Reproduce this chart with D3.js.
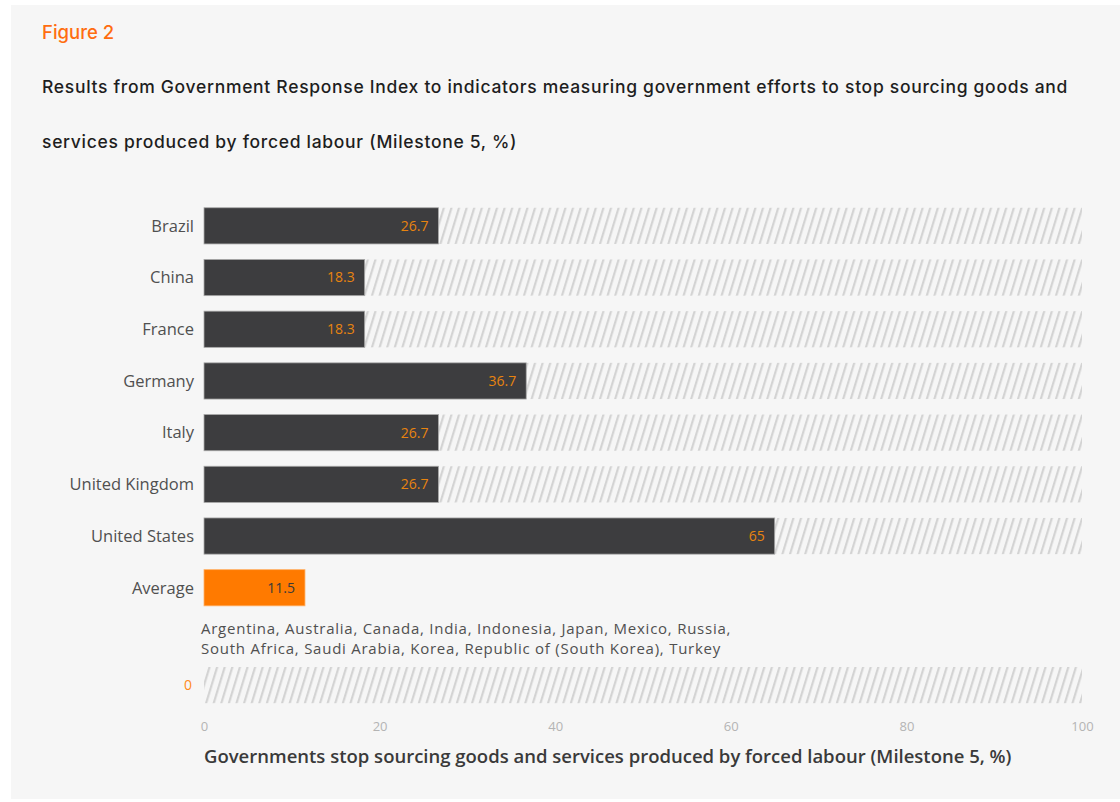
<!DOCTYPE html>
<html>
<head>
<meta charset="utf-8">
<script src="https://cdn.jsdelivr.net/npm/d3@7"></script>
<style>
  html, body { margin: 0; padding: 0; background: #fff; }
  svg { display: block; }
</style>
</head>
<body>
<svg id="chart" width="1120" height="802"></svg>
<script>
var countries = ['Brazil', 'China', 'France', 'Germany', 'Italy', 'United Kingdom', 'United States', 'Average']
  , values = [26.7, 18.3, 18.3, 36.7, 26.7, 26.7, 65, 11.5]
  , zeroCountries = ['Argentina, Australia, Canada, India, Indonesia, Japan, Mexico, Russia,',
                     'South Africa, Saudi Arabia, Korea, Republic of (South Korea), Turkey']
  , zeroValue = 0
  , ticks = [0, 20, 40, 60, 80, 100]
  ;

var svg = d3.select('#chart')
  , orange = '#ff7a00'
  , dark = '#3d3d3f'
  , labelFont = '"Open Sans", Lato, sans-serif'
  , titleFont = 'Inter, "Noto Sans", sans-serif'
  ;

svg.append('rect')
    .attr('x', 11).attr('y', 5)
    .attr('width', 1109).attr('height', 794)
    .attr('fill', '#f6f6f6');

var defs = svg.append('defs');
var pat = defs.append('pattern')
    .attr('id', 'hatch')
    .attr('patternUnits', 'userSpaceOnUse')
    .attr('width', 7.6).attr('height', 40)
    .attr('patternTransform', 'skewX(-17)');
pat.append('rect')
    .attr('x', 2).attr('y', 0)
    .attr('width', 2.2).attr('height', 40)
    .attr('fill', '#d2d2d2');

var x = d3.scaleLinear().domain([0, 100]).range([204, 1082]);
var y = d3.scaleBand().domain(countries).range([200, 613.6]).paddingInner(0.3).paddingOuter(0.15);
var zeroY = 667;

// titles
svg.append('text')
    .attr('x', 42).attr('y', 39)
    .attr('font-family', titleFont).attr('font-size', 18.5).attr('font-weight', 500)
    .attr('fill', '#ff6d10')
    .text('Figure 2');

var titleLines = ['Results from Government Response Index to indicators measuring government efforts to stop sourcing goods and',
                  'services produced by forced labour (Milestone 5, %)'];
svg.selectAll('.title')
    .data(titleLines)
  .enter().append('text')
    .attr('x', 42)
    .attr('y', function (d, i) { return 93 + i * 55; })
    .attr('font-family', titleFont).attr('font-size', 17.5).attr('font-weight', 500)
    .attr('letter-spacing', 0.7)
    .attr('fill', '#1e1e1e')
    .text(function (d) { return d; });

var rows = svg.append('g').selectAll('g')
    .data(countries.map(function (c, i) { return {name: c, value: values[i]}; }))
  .enter().append('g')
    .attr('transform', function (d) { return 'translate(0,' + y(d.name) + ')'; });

rows.filter(function (d) { return d.name !== 'Average'; })
  .append('rect')
    .attr('x', function (d) { return x(d.value); })
    .attr('width', function (d) { return x(100) - x(d.value); })
    .attr('height', y.bandwidth())
    .attr('fill', 'url(#hatch)');

rows.append('rect')
    .attr('x', x(0))
    .attr('width', function (d) { return x(d.value) - x(0); })
    .attr('height', y.bandwidth())
    .attr('fill', function (d) { return d.name === 'Average' ? orange : dark; })
    .attr('stroke', function (d) { return d.name === 'Average' ? '#ffb066' : '#a8a8a8'; })
    .attr('stroke-width', 0.8);

rows.append('text')
    .attr('x', function (d) { return x(d.value) - 10; })
    .attr('y', y.bandwidth() / 2)
    .attr('dy', '0.35em')
    .attr('text-anchor', 'end')
    .attr('font-family', labelFont).attr('font-size', 14)
    .attr('fill', function (d) { return d.name === 'Average' ? '#3a3a3a' : '#e8840f'; })
    .text(function (d) { return d.value; });

rows.append('text')
    .attr('x', 194)
    .attr('y', y.bandwidth() / 2)
    .attr('dy', '0.35em')
    .attr('text-anchor', 'end')
    .attr('font-family', labelFont).attr('font-size', 16.5)
    .attr('fill', '#505050')
    .text(function (d) { return d.name; });

// zero group
svg.selectAll('.zeroname')
    .data(zeroCountries)
  .enter().append('text')
    .attr('x', 201)
    .attr('y', function (d, i) { return 634 + i * 19.5; })
    .attr('font-family', labelFont).attr('font-size', 15)
    .attr('letter-spacing', 0.75)
    .attr('fill', '#505050')
    .text(function (d) { return d; });

svg.append('rect')
    .attr('x', x(zeroValue)).attr('y', zeroY)
    .attr('width', x(100) - x(zeroValue))
    .attr('height', y.bandwidth())
    .attr('fill', 'url(#hatch)');

svg.append('text')
    .attr('x', 192).attr('y', zeroY + y.bandwidth() / 2)
    .attr('dy', '0.35em')
    .attr('text-anchor', 'end')
    .attr('font-family', labelFont).attr('font-size', 14)
    .attr('fill', '#ff8a1a')
    .text(zeroValue);

// axis
var axis = svg.append('g')
    .attr('transform', 'translate(0,722)')
    .call(d3.axisBottom(x).tickValues(ticks).tickSize(0).tickPadding(0));
axis.select('.domain').remove();
axis.selectAll('text')
    .attr('font-family', labelFont).attr('font-size', 13)
    .attr('fill', '#b4b4b4');

svg.append('text')
    .attr('x', 204).attr('y', 763)
    .attr('font-family', labelFont).attr('font-size', 18.5).attr('font-weight', 600)
    .attr('fill', '#3a3a3a')
    .text('Governments stop sourcing goods and services produced by forced labour (Milestone 5, %)');
</script>
</body>
</html>
